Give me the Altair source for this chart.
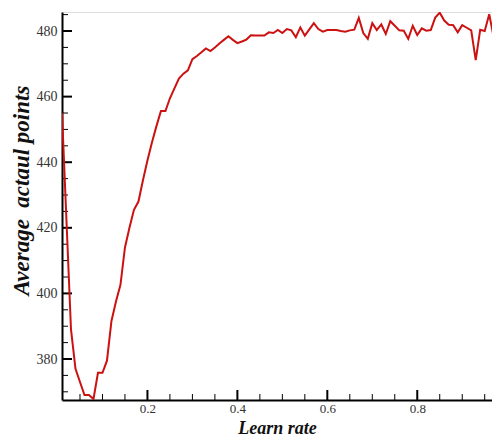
import altair as alt
import pandas as pd

learn_rate = [
    0.01, 0.02, 0.03, 0.04, 0.05, 0.06, 0.07, 0.08, 0.09, 0.10,
    0.11, 0.12, 0.13, 0.14, 0.15, 0.16, 0.17, 0.18, 0.19, 0.20,
    0.21, 0.22, 0.23, 0.24, 0.25, 0.26, 0.27, 0.28, 0.29, 0.30,
    0.31, 0.32, 0.33, 0.34, 0.35, 0.36, 0.37, 0.38, 0.39, 0.40,
    0.41, 0.42, 0.43, 0.44, 0.45, 0.46, 0.47, 0.48, 0.49, 0.50,
    0.51, 0.52, 0.53, 0.54, 0.55, 0.56, 0.57, 0.58, 0.59, 0.60,
    0.61, 0.62, 0.63, 0.64, 0.65, 0.66, 0.67, 0.68, 0.69, 0.70,
    0.71, 0.72, 0.73, 0.74, 0.75, 0.76, 0.77, 0.78, 0.79, 0.80,
    0.81, 0.82, 0.83, 0.84, 0.85, 0.86, 0.87, 0.88, 0.89, 0.90,
    0.91, 0.92, 0.93, 0.94, 0.95, 0.96, 0.97, 0.98, 0.99,
]
avg_points = [
    455.0, 422.0, 389.0, 377.0, 373.0, 369.0, 369.0, 367.8, 375.8, 375.8,
    379.5, 391.6, 397.5, 402.6, 414.0, 420.0, 425.5, 428.0, 434.5, 440.5,
    446.0, 451.0, 455.6, 455.6, 459.5, 462.5, 465.5, 467.0, 468.0, 471.4,
    472.4, 473.5, 474.7, 473.9, 475.0, 476.2, 477.3, 478.4, 477.3, 476.3,
    476.8, 477.4, 478.7, 478.6, 478.6, 478.6, 479.6, 479.4, 480.3, 479.4,
    480.6, 480.2, 478.1, 481.1, 478.6, 480.5, 482.4, 480.6, 479.8, 480.3,
    480.3, 480.3, 480.0, 479.8, 480.2, 480.4, 484.0, 479.4, 477.6, 482.4,
    480.3, 482.0, 479.1, 483.0, 481.6, 480.2, 480.1, 477.6, 481.6, 478.8,
    480.8, 480.1, 480.3, 484.1, 485.6, 483.2, 481.9, 481.8, 479.6, 481.8,
    481.0, 480.2, 471.1, 480.4, 480.0, 485.1, 478.1, 483.8, 482.0,
]

y_major = [380, 400, 420, 440, 460, 480]
y_minor = [370, 375, 385, 390, 395, 405, 410, 415, 425, 430, 435,
           445, 450, 455, 465, 470, 475, 485]
x_major = [0.2, 0.4, 0.6, 0.8]
x_minor = [0.05, 0.1, 0.15, 0.25, 0.3, 0.35, 0.45, 0.5, 0.55,
           0.65, 0.7, 0.75, 0.85, 0.9, 0.95]

# plot area: 430 x 388 px, whole svg 484 x 429 so that the page does not overflow
W, H = 430, 388
SERIF = "Liberation Serif"

df = pd.DataFrame({"lr": learn_rate, "pts": avg_points})

xscale = alt.Scale(domain=[0.01, 0.9662], nice=False, zero=False)
yscale = alt.Scale(domain=[367.5, 485.8], nice=False, zero=False)

xaxis = alt.Axis(
    values=x_major, format=".1f", ticks=False, grid=False,
    domainColor="black", domainWidth=2,
    labelFont=SERIF, labelFontSize=13, labelColor="#333333", labelPadding=2,
    title="Learn rate", titleFont=SERIF, titleFontSize=18,
    titleFontStyle="italic", titleFontWeight="bold", titleColor="#111111",
    titleBaseline="alphabetic", titleY=33,
)
yaxis = alt.Axis(
    values=y_major, format="d", ticks=False, grid=False,
    domainColor="black", domainWidth=2,
    labelFont=SERIF, labelFontSize=14, labelColor="#333333", labelPadding=5,
    title="Average\u00a0\u00a0actaul points", titleFont=SERIF, titleFontSize=23,
    titleFontStyle="italic", titleFontWeight="bold", titleColor="#111111",
    titleBaseline="alphabetic", titleX=-34, titleY=178, titleAngle=270,
)

line = alt.Chart(df).mark_line(color="#cc1111", strokeWidth=2, clip=True).encode(
    x=alt.X("lr:Q", scale=xscale, axis=xaxis),
    y=alt.Y("pts:Q", scale=yscale, axis=yaxis),
)

def xticks(vals, length, width):
    return alt.Chart(pd.DataFrame({"lr": vals})).mark_rule(
        color="black", strokeWidth=width
    ).encode(
        x=alt.X("lr:Q", scale=xscale, axis=xaxis),
        y=alt.value(H), y2=alt.value(H - length),
    )

def yticks(vals, length, width):
    return alt.Chart(pd.DataFrame({"pts": vals})).mark_rule(
        color="black", strokeWidth=width
    ).encode(
        y=alt.Y("pts:Q", scale=yscale, axis=yaxis),
        x=alt.value(0), x2=alt.value(length),
    )

chart = alt.layer(
    xticks(x_minor, 6, 1), xticks(x_major, 10, 2),
    yticks(y_minor, 6, 1), yticks(y_major, 10, 2),
    line,
).properties(
    width=W, height=H,
    autosize=alt.AutoSizeParams(type="none"),
    padding={"left": 54, "top": 4, "right": 0, "bottom": 37},
).configure_view(stroke=None).configure(background="white")

chart.save("out.html", embed_options={"renderer": "svg", "actions": False})
